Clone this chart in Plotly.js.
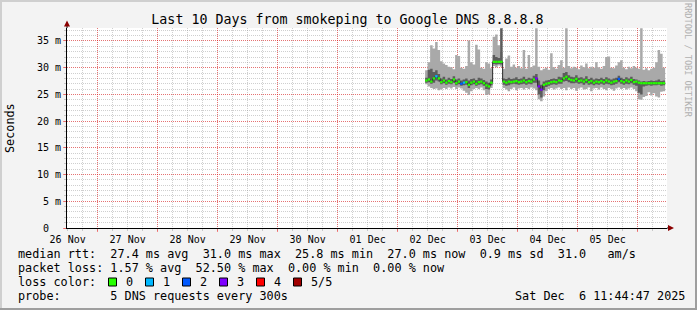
<!DOCTYPE html>
<html>
<head>
<meta charset="utf-8">
<script src="https://cdn.plot.ly/plotly-3.0.1.min.js"></script>
<style>html,body{margin:0;padding:0;background:#f3f3f3;}#chart{width:697px;height:310px;}</style>
</head>
<body>
<div id="chart"></div>
<script>
// ---------------- data ----------------
const titleText = 'Last 10 Days from smokeping to Google DNS 8.8.8.8';
const rangeStart = '2025-11-26 11:44:47';
const rangeEnd = '2025-12-06 11:44:47';
const dayTickVals = ['2025-11-27','2025-11-28','2025-11-29','2025-11-30','2025-12-01','2025-12-02','2025-12-03','2025-12-04','2025-12-05','2025-12-06'];
const dayLabels = ['26 Nov','27 Nov','28 Nov','29 Nov','30 Nov','01 Dec','02 Dec','03 Dec','04 Dec','05 Dec'];
const yTickVals = [0, 5, 10, 15, 20, 25, 30, 35];
const yTickText = ['0', '5 m', '10 m', '15 m', '20 m', '25 m', '30 m', '35 m'];
const firstBin = '2025-12-02T11:00:00Z';   // hourly bins

// median rtt (ms) per hour
const median = [27.6,27.8,27.4,28.0,28.4,28.0,27.3,27.6,27.2,27.5,27.3,27.8,27.1,27.4,27.0,27.2,27.3,26.8,27.2,27.4,
  27.0,27.3,27.4,27.1,26.7,26.5,27.2,31.1,31.1,31.1,31.1,27.4,27.2,27.4,27.3,27.4,27.5,27.3,27.4,27.6,
  27.3,27.5,27.4,27.8,28.0,26.5,25.9,26.8,27.0,27.1,27.3,27.4,27.3,27.6,27.5,28.0,28.3,27.9,27.7,27.6,
  27.9,27.5,27.6,27.4,27.7,27.3,27.5,27.2,27.4,27.3,27.5,27.3,27.6,27.4,27.2,27.4,27.5,27.9,27.5,27.3,
  27.6,27.4,27.7,27.3,27.4,27.2,27.1,27.1,27.1,27.1,27.1,27.1,27.1,27.1,27.1,27.1];
// smoke: min ping
const smokeMin = [26.9,26.5,26.2,26.0,26.1,25.8,25.9,26.2,26.0,26.3,26.1,26.4,26.0,26.3,26.1,25.7,25.3,24.9,25.6,26.0,
  26.2,26.0,26.3,25.8,24.9,25.0,26.2,30.3,30.1,30.4,30.2,26.2,25.9,25.6,26.0,26.3,25.8,26.1,26.2,25.9,
  26.2,26.0,26.3,26.1,25.8,24.1,23.7,24.6,25.6,26.0,26.2,25.9,26.1,26.3,26.0,26.2,25.8,26.3,26.0,26.2,
  25.7,26.1,26.3,25.9,26.0,26.3,25.6,26.1,26.2,25.9,26.3,26.0,25.8,26.2,26.0,25.7,26.1,26.3,26.0,26.2,
  25.9,26.1,26.3,26.0,25.6,24.1,24.0,24.5,24.7,25.4,24.8,25.2,24.6,24.4,25.5,25.6];
// smoke: max ping
const smokeMax = [29.5,31.0,34.2,33.6,34.8,33.3,31.2,30.8,30.5,30.2,30.1,29.7,32.4,32.2,30.0,29.8,30.3,35.1,31.0,30.6,
  34.3,33.4,30.0,29.8,31.0,30.8,29.9,35.8,36.2,34.2,33.0,29.8,31.7,32.3,30.2,30.6,30.0,30.3,29.9,33.3,
  29.8,32.4,30.1,30.4,37.4,30.2,29.5,29.8,30.0,29.6,32.7,30.1,29.8,30.5,31.4,30.0,37.4,30.3,29.9,30.2,
  30.0,29.7,30.4,30.1,30.8,29.9,30.2,30.0,31.0,30.1,29.8,30.3,32.0,32.1,30.0,29.9,30.4,31.0,31.4,30.0,
  29.7,30.2,29.9,30.3,30.0,29.8,37.4,29.6,29.9,29.5,29.8,30.0,31.0,33.3,32.6,30.0];
// smoke: inner pings (2nd / 4th)
const innerLow = [27.2,27.3,27.0,27.2,27.6,27.4,26.9,27.1,26.8,27.0,26.9,27.2,26.7,26.9,26.6,26.7,26.8,26.2,26.7,26.9,
  26.6,26.8,26.9,26.6,26.0,25.9,26.7,30.7,30.6,30.7,30.6,26.8,26.6,26.7,26.9,27.0,26.9,26.8,26.9,27.0,
  26.8,27.0,26.9,27.2,27.2,25.0,24.4,25.8,26.4,26.6,26.8,26.9,26.8,27.0,27.0,27.4,27.5,27.3,27.1,27.1,
  27.2,27.0,27.1,26.8,27.1,26.8,26.9,26.7,26.9,26.8,27.0,26.8,27.0,26.9,26.7,26.8,27.0,27.3,27.0,26.8,
  27.0,26.9,27.1,26.8,26.6,25.3,25.0,26.5,26.6,26.7,26.6,26.7,26.7,26.8,26.6,26.7];
const innerHigh = [28.1,29.6,29.8,29.2,29.5,28.8,28.0,28.3,27.8,28.1,27.9,28.4,27.8,28.0,27.6,27.8,28.0,27.6,27.9,28.0,
  27.7,28.1,28.0,27.7,27.4,27.2,27.8,32.4,32.0,31.8,37.4,28.0,27.9,28.1,27.9,28.0,28.2,27.9,28.0,28.3,
  27.9,28.1,28.0,28.5,28.8,27.6,26.8,27.4,27.6,27.7,27.9,28.0,27.9,28.3,28.2,29.0,29.2,28.6,28.3,28.2,
  28.6,28.1,28.2,28.0,28.4,27.9,28.1,27.8,28.0,27.9,28.1,27.9,28.2,28.0,27.8,28.0,28.1,28.5,28.1,27.9,
  28.2,28.0,28.3,27.9,27.8,27.6,27.4,27.5,27.4,27.5,27.6,27.5,27.6,27.8,27.5,27.6];
// packet loss class per hour (0..5 of 5 pings)
const lossClass = [0,0,0,0,1,0,0,0,0,0,0,0,0,0,2,1,0,0,0,0,
  0,0,0,0,0,0,0,0,0,0,0,0,0,0,0,0,0,0,0,0,
  0,0,0,0,3,3,3,0,0,0,0,0,0,0,0,0,0,0,0,0,
  0,0,0,0,0,0,0,0,0,0,0,0,0,0,0,0,0,2,0,0,
  0,0,0,0,0,0,0,0,0,0,0,0,0,0,0,0];
const lossColors = ['#26ff00','#00b8ff','#0059ff','#7e00ff','#ff0000','#a10000'];
const lossLabels = ['0','1','2','3','4','5/5'];

const legendMedian = 'median rtt:  27.4 ms avg  31.0 ms max  25.8 ms min  27.0 ms now  0.9 ms sd  31.0   am/s';
const legendLoss = 'packet loss: 1.57 % avg  52.50 % max  0.00 % min  0.00 % now';
const legendColorHead = 'loss color:';
const legendProbe = 'probe:       5 DNS requests every 300s';
const dateStamp = 'Sat Dec  6 11:44:47 2025';
const watermark = 'RRDTOOL / TOBI OETIKER';
const yTitle = 'Seconds';

// ---------------- build ----------------
const W = 697, H = 310, L = 67, R = 667, T = 28, B = 228;
const px = x => (x - L) / (R - L);
const py = y => (B - y) / (B - T);
const nb = s => s.replace(/ /g, '\u00A0');
const HOUR = 3600000;
const t0 = Date.parse(firstBin);
const n = median.length;
const xs = [];
for (let i = 0; i <= n; i++) xs.push(t0 + i * HOUR);
const ext = a => a.concat([a[a.length - 1]]);

const traces = [];
function step(y, fill, color, w, lc) {
  return {x: xs, y: ext(y), type: 'scatter', mode: 'lines', line: {shape: 'hv', width: w || 0, color: lc || color || '#000'},
    fill: fill || 'none', fillcolor: color, hoverinfo: 'skip', showlegend: false};
}
traces.push(step(smokeMin));
traces.push(step(smokeMax, 'tonexty', '#a9a9a9'));
traces.push(step(innerLow));
traces.push(step(innerHigh, 'tonexty', '#5c5c5c'));
traces.push(step(median, 'none', null, 1, '#2a2a2a'));
for (let k = 0; k < lossColors.length; k++) {
  const sx = [], sy = [];
  for (let i = 0; i < n; i++) {
    if (lossClass[i] === k) { sx.push(xs[i], xs[i + 1], null); sy.push(median[i], median[i], null); }
  }
  if (sx.length) traces.push({x: sx, y: sy, type: 'scatter', mode: 'lines', line: {color: lossColors[k], width: 2.2},
    hoverinfo: 'skip', showlegend: false});
}

const mono = 'DejaVu Sans Mono';
const lf = {family: mono, size: 11.8, color: '#000'};
const ann = [];
function txt(text, x, y, opts) {
  ann.push(Object.assign({text: nb(text), xref: 'paper', yref: 'paper', x: px(x), y: py(y), xanchor: 'left', yanchor: 'middle',
    showarrow: false, font: lf}, opts || {}));
}
txt(legendMedian, 16, 254);
txt(legendLoss, 16, 268);
txt(legendColorHead, 16, 282);
txt(legendProbe, 16, 296);
txt(dateStamp, 513, 296);
txt(yTitle, 10, 128, {xanchor: 'center', textangle: -90});
txt(watermark, 688, 60, {xanchor: 'center', textangle: 90, font: {family: mono, size: 8.6, color: '#b0b0b0'}});

const shapes = [];
function rectPx(x0, y0, x1, y1, fill, line) {
  shapes.push({type: 'rect', xref: 'paper', yref: 'paper', x0: px(x0), x1: px(x1), y0: py(y0), y1: py(y1),
    fillcolor: fill, line: line || {width: 0}});
}
for (let k = 0; k < lossColors.length; k++) {
  const sx = 108.5 + k * 37;
  rectPx(sx, 278, sx + 8, 286, lossColors[k], {color: '#000', width: 1});
  txt(lossLabels[k], sx + 15, 282);
}
// 3D border
rectPx(0, 0, 697, 2, '#cfcfcf');
rectPx(0, 0, 2, 310, '#cfcfcf');
rectPx(0, 308, 697, 310, '#9e9e9e');
rectPx(695, 0, 697, 310, '#9e9e9e');
// axis extensions and arrows
shapes.push({type: 'line', xref: 'paper', yref: 'paper', x0: px(667), x1: px(670), y0: py(228), y1: py(228), line: {color: '#000', width: 1}});
shapes.push({type: 'line', xref: 'paper', yref: 'paper', x0: px(67), x1: px(67), y0: py(28), y1: py(25), line: {color: '#000', width: 1}});
function tri(pts) {
  shapes.push({type: 'path', xref: 'paper', yref: 'paper',
    path: 'M' + pts.map(p => px(p[0]) + ',' + py(p[1])).join(' L') + ' Z', fillcolor: '#8b0000', line: {width: 0}});
}
tri([[668, 225], [668, 231], [674, 228]]);
tri([[64, 26.5], [70, 26.5], [67, 20.5]]);

const redGrid = 'rgba(255,0,0,0.45)';
const grayGrid = 'rgba(140,140,140,0.42)';
const layout = {
  width: W, height: H,
  margin: {l: L, r: W - R, t: T, b: H - B, pad: 0},
  paper_bgcolor: '#f3f3f3', plot_bgcolor: '#ffffff',
  title: {text: titleText, x: 347.5 / W, xref: 'container', y: 1 - 19 / H, yref: 'container', xanchor: 'center', yanchor: 'middle',
    font: {family: mono, size: 13.3, color: '#000'}},
  showlegend: false,
  xaxis: {type: 'date', range: [rangeStart, rangeEnd], tickmode: 'array', tickvals: dayTickVals, ticktext: dayLabels,
    ticklabelshift: -30, ticklabelstandoff: -1, showgrid: true, gridcolor: redGrid, griddash: '1px,1px', gridwidth: 1,
    ticks: 'outside', ticklen: 3, tickcolor: redGrid, tickfont: {family: mono, size: 10, color: '#000'},
    showline: true, linecolor: '#000', linewidth: 1, zeroline: false, fixedrange: true,
    minor: {dtick: 6 * HOUR, tick0: '2025-11-27', showgrid: true, gridcolor: grayGrid, griddash: '1px,1px', gridwidth: 1,
      ticks: 'outside', ticklen: 2, tickcolor: grayGrid}},
  yaxis: {range: [0, 37.43], tickmode: 'array', tickvals: yTickVals,
    ticktext: yTickText.map(t => t === '0' ? '0\u00A0\u00A0' : nb(t)),
    showgrid: true, gridcolor: redGrid, griddash: '1px,1px', gridwidth: 1,
    ticks: 'outside', ticklen: 3, tickcolor: redGrid, tickfont: {family: mono, size: 10, color: '#000'},
    showline: true, linecolor: '#000', linewidth: 1, zeroline: false, fixedrange: true,
    minor: {dtick: 1, showgrid: true, gridcolor: grayGrid, griddash: '1px,1px', gridwidth: 1,
      ticks: 'outside', ticklen: 2, tickcolor: grayGrid}},
  annotations: ann,
  shapes: shapes
};
Plotly.newPlot('chart', traces, layout, {staticPlot: true, displayModeBar: false});
</script>
</body>
</html>
